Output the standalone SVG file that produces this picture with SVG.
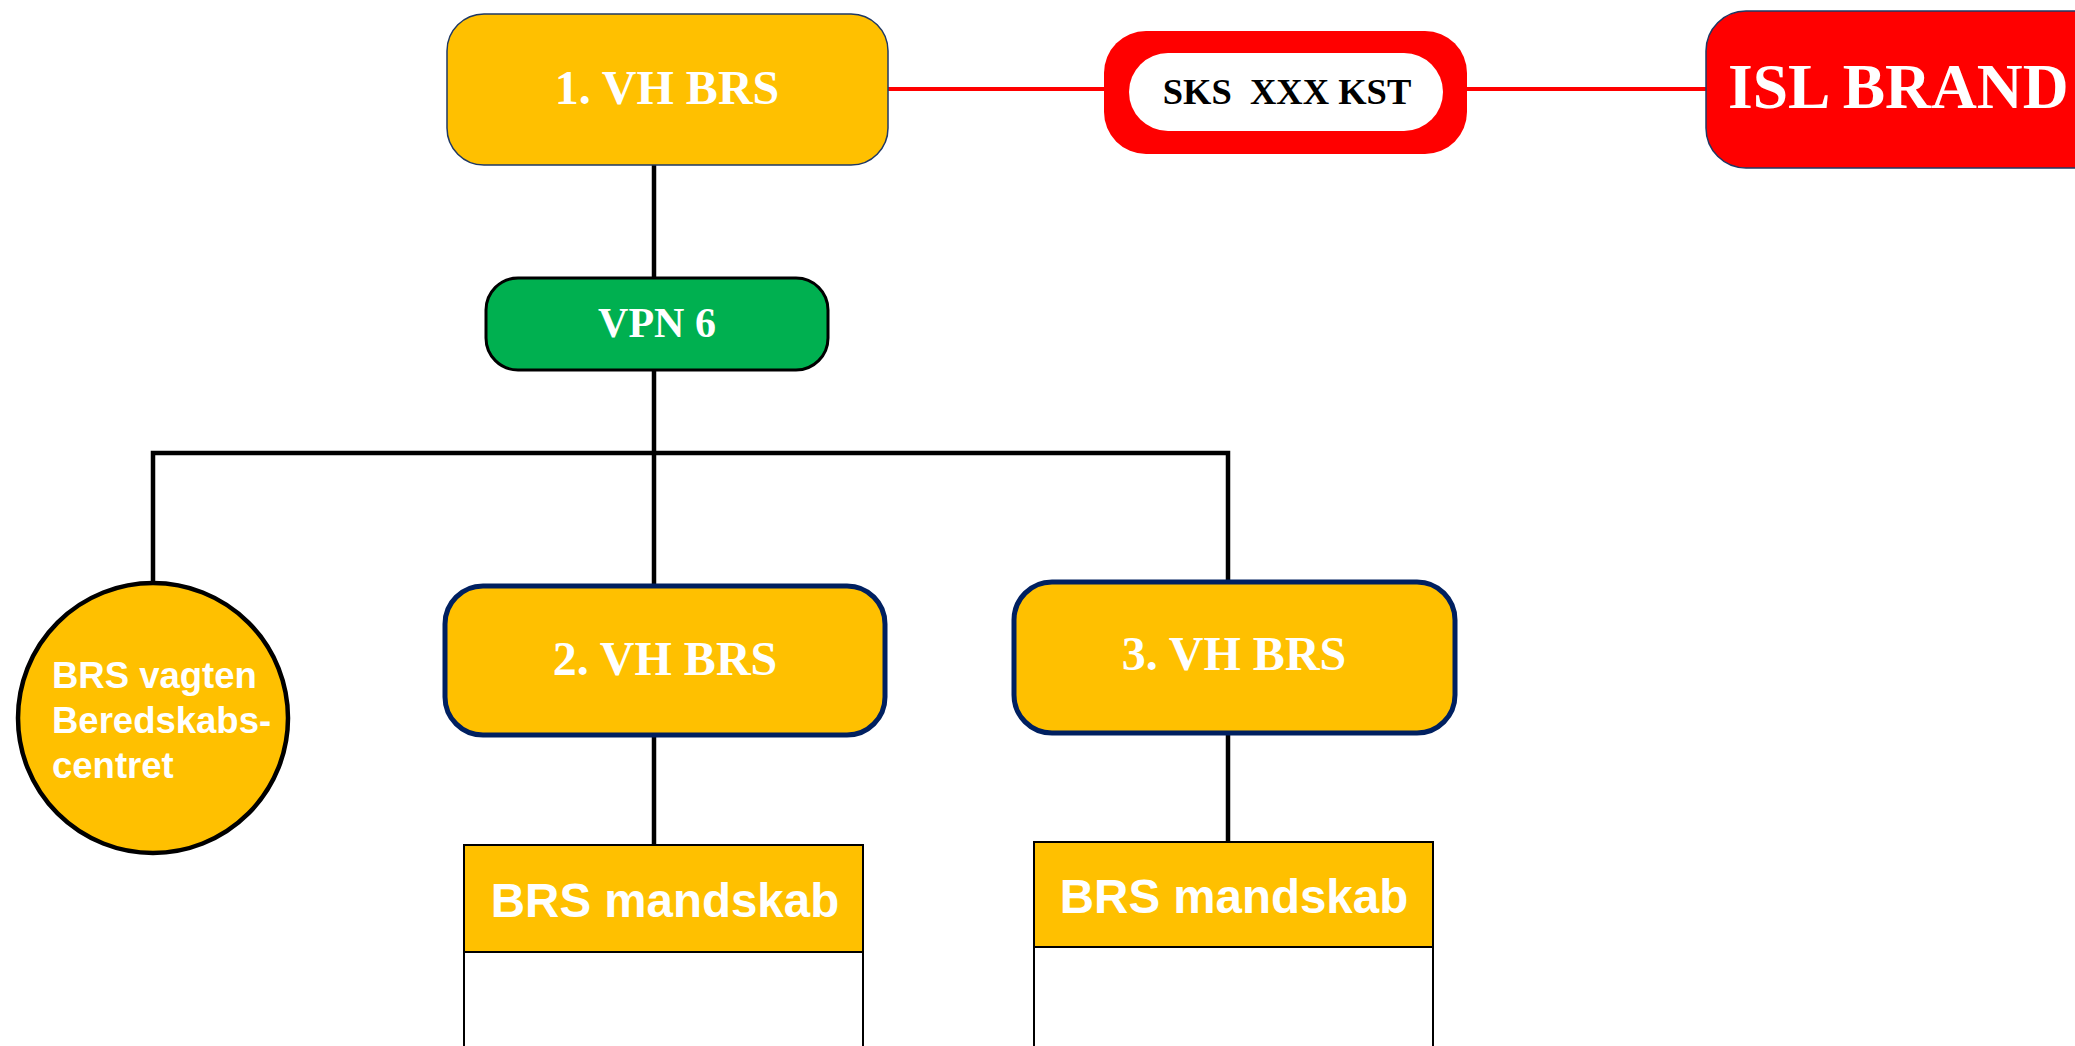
<svg xmlns="http://www.w3.org/2000/svg" width="2075" height="1046" viewBox="0 0 2075 1046">
<style>
.serif{font-family:"Liberation Serif","Times New Roman",serif;font-weight:bold;text-anchor:middle}
.sans{font-family:"Liberation Sans",Arial,sans-serif;font-weight:bold}
.wt{fill:#FFFFFF}
.conn{stroke:#000000;stroke-width:4.5;fill:none}
.red{stroke:#FF0000;stroke-width:4;fill:none}
.vh{fill:#FFC000;stroke:#002060;stroke-width:5}
.team{fill:#FFC000;stroke:#000000;stroke-width:2}
</style>
<rect width="2075" height="1046" fill="#FFFFFF"/>
<g id="connectors">
<line class="red" x1="888" y1="89" x2="1104" y2="89"/>
<line class="red" x1="1467" y1="89" x2="1706" y2="89"/>
<line class="conn" x1="654" y1="165" x2="654" y2="278"/>
<line class="conn" x1="654" y1="370" x2="654" y2="584"/>
<polyline class="conn" points="153,583 153,453 1228,453 1228,580"/>
<line class="conn" x1="654" y1="737" x2="654" y2="845"/>
<line class="conn" x1="1228" y1="735" x2="1228" y2="842"/>
</g>
<g id="vh1">
<rect x="447" y="14" width="441" height="151" rx="37" ry="37" fill="#FFC000" stroke="#1F3864" stroke-width="1.5"/>
<text class="serif wt" x="667" y="104" font-size="48">1. VH BRS</text>
</g>
<g id="sks">
<rect x="1104" y="31" width="363" height="123" rx="42" ry="42" fill="#FF0000"/>
<rect x="1129" y="53" width="314" height="78" rx="39" ry="39" fill="#FFFFFF"/>
<text class="serif" x="1287" y="104" font-size="36.5" fill="#000000" xml:space="preserve" style="white-space:pre">SKS  XXX KST</text>
</g>
<g id="isl">
<rect x="1706" y="11" width="420" height="157" rx="40" ry="40" fill="#FF0000" stroke="#1F3864" stroke-width="1.5"/>
<text class="serif wt" x="1728" y="108" font-size="63.5" style="text-anchor:start">ISL BRAND</text>
</g>
<g id="vpn">
<rect x="486" y="278" width="342" height="92" rx="32" ry="32" fill="#00B050" stroke="#000000" stroke-width="3"/>
<text class="serif wt" x="657" y="337" font-size="42">VPN 6</text>
</g>
<g id="vagten">
<circle cx="153" cy="718" r="135" fill="#FFC000" stroke="#000000" stroke-width="4.5"/>
<text class="sans wt" font-size="36.5"><tspan x="52" y="688">BRS vagten</tspan><tspan x="52" y="733">Beredskabs-</tspan><tspan x="52" y="778">centret</tspan></text>
</g>
<g id="vh2">
<rect class="vh" x="445" y="586" width="440" height="149" rx="38" ry="38"/>
<text class="serif wt" x="665" y="675" font-size="48">2. VH BRS</text>
</g>
<g id="vh3">
<rect class="vh" x="1014" y="582" width="441" height="151" rx="38" ry="38"/>
<text class="serif wt" x="1234" y="670" font-size="48">3. VH BRS</text>
</g>
<g id="team2">
<rect x="464" y="952" width="399" height="120" fill="#FFFFFF" stroke="#000000" stroke-width="2"/>
<rect class="team" x="464" y="845" width="399" height="107"/>
<text class="sans wt" x="665" y="917" font-size="47.5" text-anchor="middle">BRS mandskab</text>
</g>
<g id="team3">
<rect x="1034" y="947" width="399" height="125" fill="#FFFFFF" stroke="#000000" stroke-width="2"/>
<rect class="team" x="1034" y="842" width="399" height="105"/>
<text class="sans wt" x="1234" y="913" font-size="47.5" text-anchor="middle">BRS mandskab</text>
</g>
</svg>
